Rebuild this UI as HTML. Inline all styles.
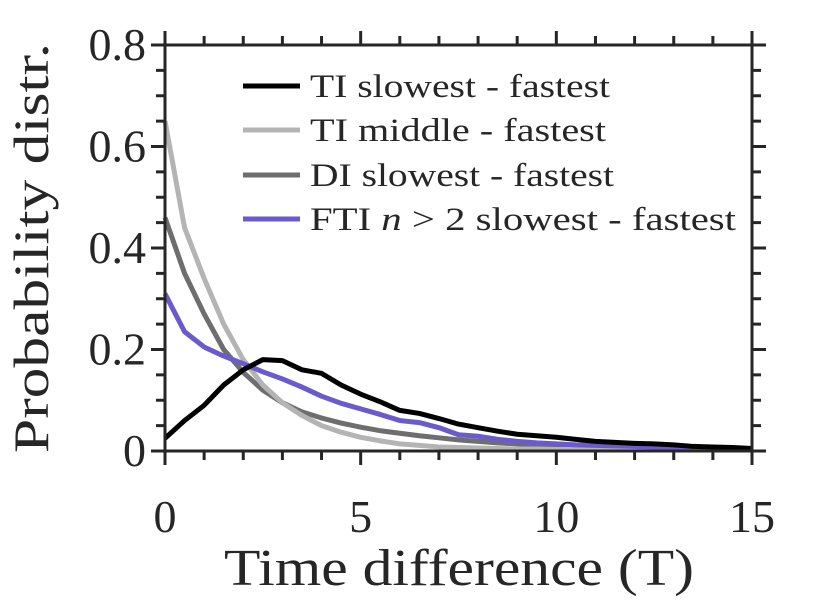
<!DOCTYPE html>
<html><head><meta charset="utf-8"><style>
html,body{margin:0;padding:0;background:#fff;}
svg{display:block;}
svg text{font-family:"Liberation Serif","DejaVu Serif",serif;}
</style></head><body>
<svg id="chart" width="830" height="608" viewBox="0 0 830 608" font-family="Liberation Serif, serif"></svg>
<script>
const xs = [0,0.5,1,1.5,2,2.5,3,3.5,4,4.5,5,5.5,6,6.5,7,7.5,8,8.5,9,9.5,10,10.5,11,11.5,12,12.5,13,13.5,14,14.5,15];
const tiSlowest = [0.025,0.06,0.09,0.13,0.16,0.18,0.178,0.16,0.153,0.13,0.112,0.097,0.08,0.074,0.064,0.053,0.046,0.039,0.033,0.03,0.027,0.023,0.019,0.017,0.015,0.014,0.012,0.009,0.008,0.007,0.005];
const tiMiddle = [0.65,0.44,0.34,0.25,0.18,0.13,0.095,0.07,0.05,0.037,0.027,0.02,0.014,0.011,0.008,0.007,0.006,0.005,0.004,0.004,0.003,0.003,0.003,0.002,0.002,0.002,0.002,0.002,0.002,0.002,0.002];
const diSlowest = [0.46,0.35,0.27,0.2,0.155,0.12,0.095,0.077,0.065,0.055,0.047,0.04,0.035,0.03,0.026,0.022,0.019,0.016,0.014,0.012,0.01,0.009,0.008,0.007,0.006,0.005,0.005,0.004,0.004,0.003,0.003];
const ftiSlowest = [0.31,0.235,0.205,0.187,0.172,0.156,0.142,0.126,0.108,0.094,0.083,0.072,0.06,0.056,0.046,0.032,0.029,0.023,0.019,0.016,0.014,0.012,0.011,0.01,0.009,0.008,0.007,0.006,0.005,0.005,0.004];
const xTicks = [0,5,10,15];
const yTicks = [0,0.2,0.4,0.6,0.8];
const seriesNames = ["TI slowest - fastest","TI middle - fastest","DI slowest - fastest","FTI n > 2 slowest - fastest"];

const svg = document.getElementById('chart');
const NS = 'http://www.w3.org/2000/svg';
const L=165,R=752,T=45,B=451;
const xS = v => L + (v/15)*(R-L);
const yS = v => B - (v/0.8)*(B-T);
function mk(tag, attrs, parent){const e=document.createElementNS(NS,tag);for(const k in attrs)e.setAttribute(k,attrs[k]);(parent||svg).appendChild(e);return e;}

const series = [[diSlowest,'#6e6e6e','series-di-slowest'],[tiMiddle,'#b4b4b4','series-ti-middle'],[ftiSlowest,'#6a5acd','series-fti-slowest'],[tiSlowest,'#000000','series-ti-slowest']];
series.forEach(s=>{
  const p = mk('polyline',{points:xs.map((x,i)=>xS(x)+','+yS(s[0][i])).join(' '),fill:'none',stroke:s[1],'stroke-width':5,'stroke-linejoin':'round'});
  
  
});

const box = mk('rect',{x:L,y:T,width:R-L,height:B-T,fill:'none',stroke:'#262626','stroke-width':3});


for(let v=0; v<=15.001; v+=1){
  const x=xS(v), len=(v%5===0)?14:9;
  mk('line',{x1:x,y1:B,x2:x,y2:B+len,stroke:'#262626','stroke-width':3});
  mk('line',{x1:x,y1:T,x2:x,y2:T-len,stroke:'#262626','stroke-width':3});
}
for(let i=0;i<=16;i++){
  const v=i*0.05, y=yS(v), len=(i%4===0)?14:9;
  mk('line',{x1:L,y1:y,x2:L-len,y2:y,stroke:'#262626','stroke-width':3});
  mk('line',{x1:R,y1:y,x2:R+len,y2:y,stroke:'#262626','stroke-width':3});
}
xTicks.forEach(v=>{
  const t=mk('text',{x:xS(v),y:532,'text-anchor':'middle','font-size':46,fill:'#262626'});t.textContent=v;
  
  
});
yTicks.forEach(v=>{
  const t=mk('text',{x:146,y:yS(v)+15,'text-anchor':'end','font-size':46,fill:'#262626'});t.textContent=v===0?'0':v.toFixed(1);
  
  
});
const xt=mk('text',{x:459,y:585,'text-anchor':'middle','font-size':52,fill:'#262626',textLength:470,lengthAdjust:'spacingAndGlyphs'});xt.textContent='Time difference (T)';


const yt=mk('text',{x:0,y:0,'text-anchor':'middle','font-size':50,fill:'#262626',transform:'translate(48,248) rotate(-90)',textLength:410,lengthAdjust:'spacingAndGlyphs'});yt.textContent='Probability distr.';



const legColors=['#000000','#b4b4b4','#6e6e6e','#6a5acd'];
const legY=[86,130,175,219];
const legW=[300,296,304,426];
seriesNames.forEach((n,i)=>{
  const g=mk('g',{});
  
  
  mk('line',{x1:243,y1:legY[i],x2:300,y2:legY[i],stroke:legColors[i],'stroke-width':5},g);
  const t=mk('text',{x:310,y:legY[i]+11,'font-size':33,fill:'#262626',textLength:legW[i],lengthAdjust:'spacingAndGlyphs'},g);
  if(i===3){t.innerHTML='FTI <tspan font-style="italic">n</tspan> &gt; 2 slowest - fastest';}
  else t.textContent=n;
});
</script>
</body></html>
